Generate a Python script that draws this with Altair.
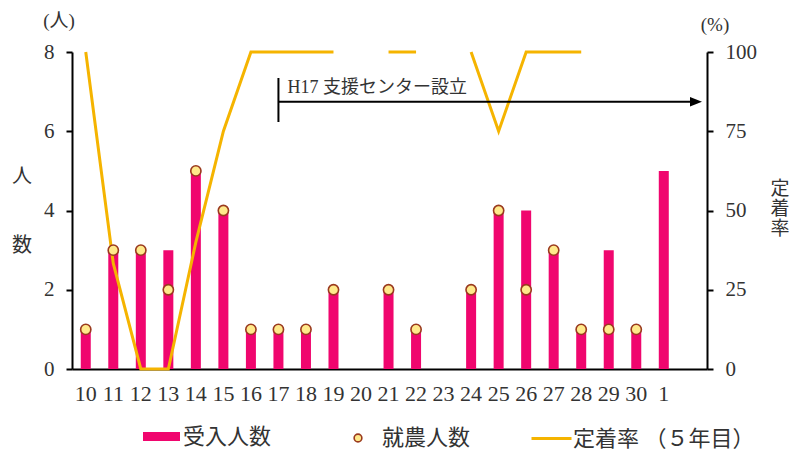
import altair as alt
import pandas as pd

# Fiscal-year labels (Heisei 10 .. 30, then Reiwa 1)
years = ["10", "11", "12", "13", "14", "15", "16", "17", "18", "19", "20",
         "21", "22", "23", "24", "25", "26", "27", "28", "29", "30", "1"]
# 受入人数 (people accepted)
received = [1, 3, 3, 3, 5, 4, 1, 1, 1, 2, 0, 2, 1, 0, 2, 4, 4, 3, 1, 3, 1, 5]
# 就農人数 (people who started farming)
farming = [1, 3, 3, 2, 5, 4, 1, 1, 1, 2, None, 2, 1, None, 2, 4, 2, 3, 1, 1, 1, None]
# 定着率 after five years (%)
rate = [100, 33.3, 0, 0, 40, 75, 100, 100, 100, 100, None,
        100, 100, None, 100, 75, 100, 100, 100, None, None, None]

PINK = "#F0066E"
GOLD = "#F5B400"
DOT_FILL = "#FFE98A"
DOT_EDGE = "#9A3A1E"
TEXT = "#333333"
FONT = "'Liberation Serif', 'Noto Sans CJK JP', serif"

# split the rate line into runs so that missing years leave a gap
seg, s = [], 0
for r in rate:
    if r is None:
        s += 1
    seg.append(s)

df = pd.DataFrame({
    "year": years, "received": received, "farming": farming,
    "rate": rate, "seg": seg,
    "bk": "受入人数", "pk": "就農人数", "lk": "定着率 （５年目）",
})

x_enc = alt.X("year:N", sort=years, title=None,
              scale=alt.Scale(paddingInner=0, paddingOuter=0.535, align=0),
              axis=alt.Axis(labelAngle=0, ticks=False, tickSize=0, labelPadding=14,
                            labelFontSize=22, domainWidth=2, domainColor="black"))

left_scale = alt.Scale(domain=[0, 8], nice=False)

bars = alt.Chart(df).mark_bar(size=10).encode(
    x=x_enc,
    y=alt.Y("received:Q", scale=left_scale, title=None,
            axis=alt.Axis(values=[0, 2, 4, 6, 8], tickSize=6, tickWidth=2,
                          labelPadding=12, domainWidth=2, grid=False,
                          domainColor="black", tickColor="black")),
    fill=alt.Fill("bk:N", scale=alt.Scale(domain=["受入人数"], range=[PINK]),
                  legend=alt.Legend(title=None, orient="none", legendX=71, legendY=366,
                                    symbolType="M-1,-0.24H1V0.24H-1Z", symbolSize=1369,
                                    symbolStrokeWidth=0, labelOffset=3)),
)

line = alt.Chart(df).transform_filter("datum.rate != null").mark_line(strokeWidth=3).encode(
    x=x_enc,
    y=alt.Y("rate:Q", scale=alt.Scale(domain=[0, 100], nice=False), title=None,
            axis=alt.Axis(orient="right", values=[0, 25, 50, 75, 100], tickSize=6,
                          tickWidth=2, labelPadding=12, domainWidth=2, grid=False,
                          domainColor="black", tickColor="black")),
    detail="seg:N",
    color=alt.Color("lk:N", scale=alt.Scale(domain=["定着率 （５年目）"], range=[GOLD]),
                    legend=alt.Legend(title=None, orient="none", legendX=458, legendY=365,
                                      symbolType="stroke", symbolSize=1600,
                                      symbolStrokeWidth=3, labelOffset=0)),
)

points = alt.Chart(df).transform_filter("datum.farming != null").mark_point(
    filled=True, size=105, fill=DOT_FILL, strokeWidth=1.6, opacity=1
).encode(
    x=x_enc,
    y=alt.Y("farming:Q", scale=left_scale, axis=None),
    stroke=alt.Stroke("pk:N", scale=alt.Scale(domain=["就農人数"], range=[DOT_EDGE]),
                      legend=alt.Legend(title=None, orient="none", legendX=275, legendY=375,
                                        symbolType="circle", symbolSize=60,
                                        symbolFillColor=DOT_FILL, symbolStrokeWidth=1.6,
                                        labelOffset=13)),
)

one = pd.DataFrame({"k": [0]})

# support-centre annotation: start marker, arrow and label
mark_start = alt.Chart(one).mark_rule(color="black", strokeWidth=2).encode(
    x=alt.datum("17"), y=alt.value(26), y2=alt.value(70))
arrow = alt.Chart(one).mark_rule(color="black", strokeWidth=2).encode(
    x=alt.datum("17"), x2=alt.value(620), y=alt.value(49.7))
head = alt.Chart(one).mark_point(shape="M-1,-0.8L1,0L-1,0.8Z", size=144, filled=True,
                                 color="black", opacity=1).encode(
    x=alt.value(624), y=alt.value(49.7))
note = alt.Chart(one).mark_text(align="left", baseline="alphabetic", dx=9, fontSize=18,
                                font=FONT, color=TEXT).encode(
    x=alt.datum("17"), y=alt.value(41), text=alt.value("H17 支援センター設立"))

# unit captions and vertical axis titles
unit_l = alt.Chart(one).mark_text(fontSize=19, font=FONT, color=TEXT).encode(
    x=alt.value(-13), y=alt.value(-31), text=alt.value("(人)"))
unit_r = alt.Chart(one).mark_text(fontSize=19, font=FONT, color=TEXT).encode(
    x=alt.value(643), y=alt.value(-27), text=alt.value("(%)"))
title_l = alt.Chart(one).mark_text(fontSize=20, font=FONT, color=TEXT, lineHeight=69,
                                   baseline="middle").encode(
    x=alt.value(-50), y=alt.value(125), text=alt.value(["人", "数"]))
title_r = alt.Chart(one).mark_text(fontSize=19, font=FONT, color=TEXT, lineHeight=20,
                                   baseline="middle").encode(
    x=alt.value(708), y=alt.value(137), text=alt.value(["定", "着", "率"]))

chart = alt.layer(
    bars, line, points, mark_start, arrow, head, note, unit_l, unit_r, title_l, title_r
).resolve_scale(y="independent").properties(
    width=635, height=317,
    autosize=alt.AutoSizeParams(type="none"),
    padding={"left": 72, "top": 52, "right": 91, "bottom": 81},
).configure_view(stroke=None).configure_axis(
    labelFont=FONT, labelFontSize=21, labelColor=TEXT,
).configure_legend(
    labelFont=FONT, labelFontSize=22, labelColor=TEXT, padding=0, labelLimit=400,
)

chart.save("out.html", embed_options={"renderer": "svg", "actions": False})
